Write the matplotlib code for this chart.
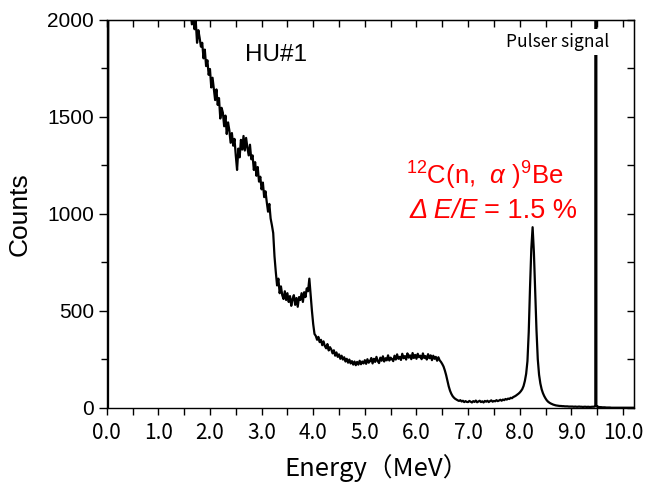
import numpy as np
import matplotlib.pyplot as plt
from matplotlib.ticker import MultipleLocator

plt.rcParams['mathtext.fontset'] = 'custom'
plt.rcParams['mathtext.rm'] = 'Liberation Sans'
plt.rcParams['mathtext.it'] = 'Liberation Sans:italic'

# channel width (MeV)
step = 0.025
fine = 0.005  # finer channels around the pulser line

# counts per channel, one list per MeV
counts_0_1 = [0, 0, 9500, 9200, 8900, 8600, 8300, 8000, 7700, 7450,
              7200, 6950, 6700, 6500, 6300, 6100, 5900, 5720, 5550, 5400,
              5250, 5100, 4960, 4830, 4700, 4580, 4470, 4360, 4260, 4160,
              4070, 3980, 3900, 3820, 3740, 3670, 3600, 3530, 3460, 3400]
counts_1_2 = [3340, 3280, 3220, 3170, 3110, 3060, 3000, 2950, 2900, 2850,
              2800, 2750, 2700, 2660, 2610, 2570, 2520, 2480, 2440, 2400,
              2250, 2200, 2150, 2100, 2070, 2040, 1975, 2030, 1950, 1990,
              1880, 1945, 1905, 1860, 1880, 1800, 1845, 1760, 1790, 1715]
counts_2_3 = [1745, 1650, 1700, 1640, 1585, 1640, 1560, 1595, 1490, 1545,
              1520, 1450, 1505, 1410, 1470, 1430, 1365, 1415, 1350, 1385,
              1300, 1225, 1335, 1290, 1380, 1330, 1400, 1325, 1390, 1340,
              1300, 1355, 1280, 1300, 1225, 1265, 1195, 1240, 1165, 1190]
counts_3_4 = [1125, 1160, 1085, 1115, 1060, 1010, 1050, 975, 940, 900,
              780, 700, 630, 665, 590, 625, 580, 560, 600, 555,
              590, 545, 575, 525, 560, 580, 530, 565, 520, 570,
              555, 590, 545, 595, 570, 615, 600, 665, 580, 500]
counts_4_5 = [430, 380, 370, 350, 365, 338, 350, 322, 342, 318,
              306, 328, 295, 312, 300, 280, 296, 268, 285, 262,
              275, 252, 268, 248, 260, 238, 252, 232, 248, 228,
              240, 222, 238, 219, 236, 222, 242, 224, 238, 228]
counts_5_6 = [245, 226, 250, 232, 240, 256, 228, 252, 236, 262,
              240, 230, 258, 242, 265, 238, 255, 244, 270, 243,
              258, 250, 240, 268, 248, 275, 252, 262, 246, 278,
              255, 266, 248, 280, 258, 270, 250, 282, 256, 272]
counts_6_7 = [252, 278, 260, 268, 250, 280, 256, 266, 248, 276,
              255, 270, 245, 268, 252, 262, 242, 260, 244, 236,
              225, 212, 192, 168, 138, 110, 88, 72, 60, 52,
              46, 42, 38, 35, 39, 32, 36, 29, 34, 30]
counts_7_8 = [29, 35, 31, 27, 34, 30, 37, 28, 32, 36,
              29, 33, 27, 35, 31, 36, 29, 34, 38, 31,
              35, 33, 39, 34, 37, 41, 36, 42, 39, 45,
              42, 47, 45, 51, 49, 55, 58, 62, 67, 72]
counts_8_9 = [78, 86, 96, 112, 138, 175, 240, 390, 620, 820,
              930, 800, 600, 400, 250, 170, 125, 95, 75, 60,
              48, 38, 31, 26, 22, 19, 16, 14, 12, 11,
              10, 9, 9, 8, 8, 7, 7, 7, 6, 6]
counts_9_pulser = [6, 6, 5, 6, 5, 5, 6, 5, 5, 4,
                   5, 5, 4, 5, 4, 4, 5, 5]          # 9.000 - 9.425
counts_pulser = [6, 6, 7, 9, 20000, 20000, 20000, 9, 7, 6, 8]  # 9.450 - 9.500
counts_pulser_10 = [4, 3, 3, 2, 2, 2, 1, 1, 1, 1,
                    0, 0, 0, 0, 0, 0, 0, 0, 0, 0,
                    0, 0, 0, 0, 0, 0, 0, 0]          # 9.525 - 10.200

segments = [(0.0, step, counts_0_1), (1.0, step, counts_1_2), (2.0, step, counts_2_3),
            (3.0, step, counts_3_4), (4.0, step, counts_4_5), (5.0, step, counts_5_6),
            (6.0, step, counts_6_7), (7.0, step, counts_7_8), (8.0, step, counts_8_9),
            (9.0, step, counts_9_pulser), (9.45, fine, counts_pulser),
            (9.525, step, counts_pulser_10)]
energy = np.concatenate([s + d * np.arange(len(c)) for s, d, c in segments])
counts = np.concatenate([np.array(c, dtype=float) for _, _, c in segments])

fig = plt.figure(figsize=(6.46, 4.84), dpi=100)
ax = fig.add_axes([0.1652, 0.1576, 0.8167, 0.8021])

ax.plot(energy, counts, color='black', lw=1.6)

ax.set_xlim(0, 10.22)
ax.set_ylim(0, 2000)
for s in ax.spines.values():
    s.set_linewidth(1.0)

ax.xaxis.set_minor_locator(MultipleLocator(0.5))
ax.yaxis.set_minor_locator(MultipleLocator(250))
ax.set_xticks(np.arange(0, 10.01, 1.0))
ax.set_xticklabels([f'{v:.1f}' for v in np.arange(0, 10.01, 1.0)],
                   family='Noto Sans CJK JP', fontsize=15)
ax.set_yticks([0, 500, 1000, 1500, 2000])
ax.set_yticklabels(['0', '500', '1000', '1500', '2000'],
                   family='Liberation Sans', fontsize=15)
ax.tick_params(axis='x', which='both', direction='out', length=5, width=1, pad=5)
ax.tick_params(axis='y', which='major', direction='out', length=6, width=1, pad=3)
ax.tick_params(axis='y', which='minor', direction='out', length=4, width=1)

top = ax.secondary_xaxis('top')
top.xaxis.set_major_locator(MultipleLocator(0.5))
top.tick_params(direction='in', length=5, width=1, labeltop=False)
right = ax.secondary_yaxis('right')
right.yaxis.set_major_locator(MultipleLocator(250))
right.tick_params(direction='in', length=5, width=1, labelright=False)

fig.text(20 / 646, 1 - 214 / 484, 'Counts', rotation=90, ha='center', va='center',
         family='Liberation Sans', fontsize=19)
fig.text(377 / 646, 1 - 476 / 484, 'Energy\uff08MeV\uff09', ha='center', va='baseline',
         family='Noto Sans CJK JP', fontsize=18.5)

ax.text(2.68, 1784, 'HU#1', ha='left', va='baseline', family='Liberation Sans', fontsize=17.5)
ax.text(7.74, 1859, 'Pulser signal', ha='left', va='baseline', family='Noto Sans CJK JP',
        fontsize=12.5, bbox=dict(facecolor='white', edgecolor='none', pad=3))

red = '#ff0000'
ax.text(7.33, 1148, r'$^{12}$C(n,  $\alpha$ )$^{9}$Be', ha='center', va='baseline',
        color=red, family='Liberation Sans', fontsize=18.5)
ax.text(7.19, 978, '\u0394 E/E', ha='right', va='baseline', color=red,
        family='Liberation Sans', style='italic', fontsize=19.5)
ax.text(7.31, 978, '= 1.5 %', ha='left', va='baseline', color=red,
        family='Liberation Sans', fontsize=19.5)

fig.savefig('out.png', dpi=100)
